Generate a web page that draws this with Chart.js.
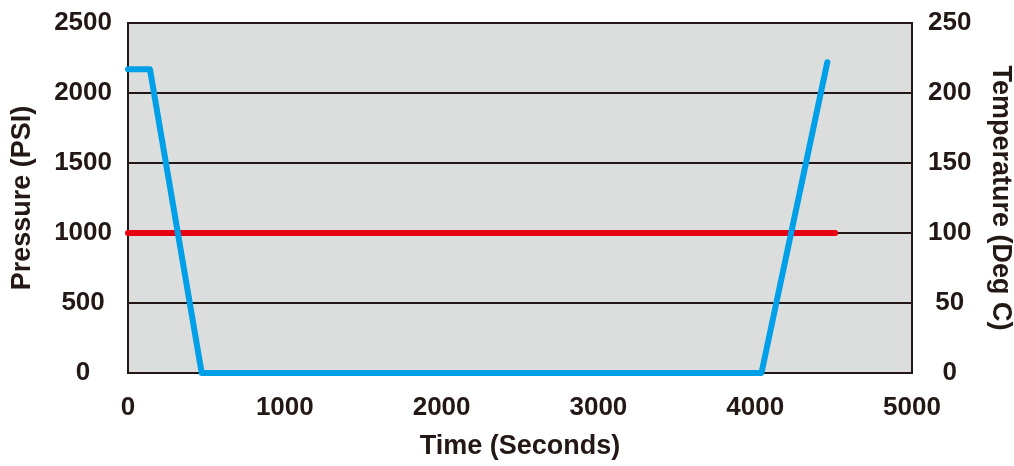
<!DOCTYPE html>
<html>
<head>
<meta charset="utf-8">
<script src="https://cdn.jsdelivr.net/npm/chart.js@4/dist/chart.umd.min.js"></script>
<style>
  html, body { margin: 0; padding: 0; background: #fff; }
  #wrap { width: 1014px; height: 466px; }
</style>
</head>
<body>
<div id="wrap"><canvas id="chart"></canvas></div>
<script>
// data
const pressureTimes = [0, 140, 470, 4040, 4460];
const pressureValues = [2170, 2170, 0, 0, 2220];
const tempTimes = [0, 4510];
const tempValues = [100, 100];

const xTicks = [0, 1000, 2000, 3000, 4000, 5000];
const leftTicks = [0, 500, 1000, 1500, 2000, 2500];
const rightTicks = [0, 50, 100, 150, 200, 250];

const ink = "#231815";
const font = { family: "'Liberation Sans', Arial, sans-serif", weight: "bold", size: 26 };
const titleFont = { family: "'Liberation Sans', Arial, sans-serif", weight: "bold", size: 27, lineHeight: 1 };

function toPoints(xs, ys) {
  return xs.map((x, i) => ({ x: x, y: ys[i] }));
}

const plain = v => String(v);

// fixed side widths so the plot box lands where the picture has it
function fitSide(width) {
  return s => {
    s.width = width;
    s.paddingTop = 23;
    s.paddingBottom = 0;
  };
}

// grey plot background + frame
const plotBox = {
  id: "plotBox",
  beforeDraw(chart) {
    const a = chart.chartArea, ctx = chart.ctx;
    ctx.save();
    ctx.fillStyle = "#dcdddd";
    ctx.fillRect(a.left, a.top, a.right - a.left, a.bottom - a.top);
    ctx.restore();
  },
  beforeDatasetsDraw(chart) {
    const a = chart.chartArea, ctx = chart.ctx;
    ctx.save();
    ctx.strokeStyle = ink;
    ctx.lineWidth = 2;
    ctx.strokeRect(a.left, a.top, a.right - a.left, a.bottom - a.top);
    ctx.restore();
  }
};

new Chart(document.getElementById("chart"), {
  type: "line",
  data: {
    datasets: [
      {
        label: "Pressure",
        data: toPoints(pressureTimes, pressureValues),
        yAxisID: "y",
        borderColor: "#00a0e9",
        borderWidth: 6,
        borderCapStyle: "round",
        borderJoinStyle: "round",
        pointRadius: 0,
        clip: false
      },
      {
        label: "Temperature",
        data: toPoints(tempTimes, tempValues),
        yAxisID: "y1",
        borderColor: "#e60012",
        borderWidth: 6,
        borderCapStyle: "round",
        pointRadius: 0,
        clip: false
      }
    ]
  },
  options: {
    responsive: true,
    maintainAspectRatio: false,
    animation: false,
    layout: { padding: 0 },
    plugins: { legend: { display: false }, tooltip: { enabled: false } },
    scales: {
      x: {
        type: "linear",
        min: 0,
        max: 5000,
        afterBuildTicks: s => { s.ticks = xTicks.map(v => ({ value: v })); },
        afterFit: s => { s.height = 93; },
        grid: { display: false, drawTicks: false },
        border: { display: false },
        ticks: { color: ink, font: font, padding: 19, maxRotation: 0, callback: plain },
        title: { display: true, text: "Time (Seconds)", color: ink, font: titleFont, padding: { top: 0, bottom: 6 } }
      },
      y: {
        position: "left",
        min: 0,
        max: 2500,
        afterBuildTicks: s => { s.ticks = leftTicks.map(v => ({ value: v })); },
        afterFit: fitSide(128),
        grid: { color: ink, lineWidth: 2, drawTicks: false },
        border: { display: false },
        ticks: { color: ink, font: font, padding: 16, crossAlign: "center", callback: plain },
        title: { display: true, text: "Pressure (PSI)", color: ink, font: titleFont, padding: { top: 9, bottom: 0 } }
      },
      y1: {
        position: "right",
        min: 0,
        max: 250,
        afterBuildTicks: s => { s.ticks = rightTicks.map(v => ({ value: v })); },
        afterFit: fitSide(102),
        grid: { display: false, drawTicks: false },
        border: { display: false },
        ticks: { color: ink, font: font, padding: 16, crossAlign: "center", callback: plain },
        title: { display: true, text: "Temperature (Deg C)", color: ink, font: titleFont, padding: { top: 0, bottom: 0 } }
      }
    }
  },
  plugins: [plotBox]
});
</script>
</body>
</html>
